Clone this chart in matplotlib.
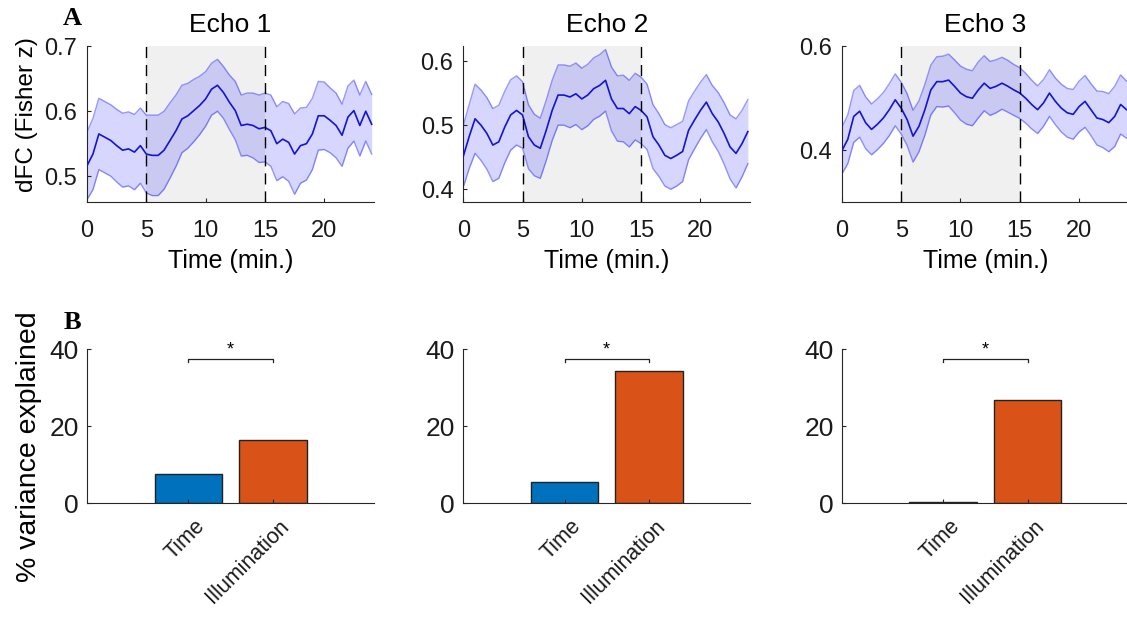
import matplotlib
matplotlib.use('Agg')
import matplotlib.pyplot as plt
import matplotlib.transforms as mtransforms
import numpy as np

plt.rcParams['font.family'] = ['Liberation Sans', 'DejaVu Sans']
plt.rcParams['font.size'] = 17

####################################################################################
# data
time_min = np.arange(0, 24.5, 0.5)
echo_titles = ['Echo 1', 'Echo 2', 'Echo 3']

dfc_echo1 = [0.516, 0.534, 0.565, 0.560, 0.555, 0.547, 0.540, 0.542, 0.537, 0.547,
             0.534, 0.532, 0.532, 0.540, 0.555, 0.570, 0.588, 0.593, 0.601, 0.609,
             0.619, 0.634, 0.640, 0.629, 0.614, 0.601, 0.578, 0.580, 0.578, 0.573,
             0.575, 0.570, 0.550, 0.557, 0.552, 0.534, 0.547, 0.550, 0.565, 0.593,
             0.593, 0.586, 0.578, 0.563, 0.591, 0.601, 0.578, 0.600, 0.580]
sem_echo1 = [0.052, 0.055, 0.055, 0.055, 0.055, 0.056, 0.057, 0.057, 0.058, 0.058,
             0.060, 0.062, 0.062, 0.060, 0.058, 0.055, 0.052, 0.050, 0.048, 0.045,
             0.042, 0.040, 0.040, 0.040, 0.042, 0.045, 0.047, 0.048, 0.050, 0.052,
             0.053, 0.055, 0.057, 0.058, 0.060, 0.062, 0.058, 0.056, 0.055, 0.053,
             0.052, 0.050, 0.050, 0.048, 0.048, 0.047, 0.047, 0.046, 0.046]

dfc_echo2 = [0.451, 0.482, 0.510, 0.500, 0.487, 0.469, 0.474, 0.497, 0.516, 0.523,
             0.516, 0.482, 0.469, 0.464, 0.492, 0.523, 0.547, 0.547, 0.544, 0.549,
             0.541, 0.547, 0.557, 0.562, 0.570, 0.541, 0.526, 0.526, 0.518, 0.529,
             0.523, 0.513, 0.482, 0.469, 0.453, 0.448, 0.453, 0.459, 0.492, 0.508,
             0.523, 0.536, 0.518, 0.505, 0.487, 0.466, 0.456, 0.471, 0.490]
sem_echo2 = [0.048, 0.050, 0.054, 0.055, 0.056, 0.057, 0.057, 0.056, 0.055, 0.054,
             0.052, 0.050, 0.048, 0.047, 0.047, 0.047, 0.047, 0.047, 0.048, 0.048,
             0.048, 0.048, 0.048, 0.048, 0.048, 0.050, 0.051, 0.052, 0.052, 0.052,
             0.052, 0.051, 0.050, 0.049, 0.048, 0.048, 0.048, 0.047, 0.046, 0.045,
             0.044, 0.043, 0.044, 0.046, 0.048, 0.050, 0.054, 0.052, 0.050]

dfc_echo3 = [0.399, 0.421, 0.465, 0.475, 0.453, 0.440, 0.450, 0.462, 0.478, 0.497,
             0.481, 0.459, 0.427, 0.446, 0.478, 0.516, 0.532, 0.532, 0.535, 0.523,
             0.510, 0.503, 0.500, 0.516, 0.529, 0.519, 0.523, 0.529, 0.523, 0.516,
             0.510, 0.500, 0.488, 0.478, 0.491, 0.510, 0.494, 0.481, 0.472, 0.469,
             0.484, 0.494, 0.478, 0.462, 0.459, 0.453, 0.465, 0.488, 0.478]
sem_echo3 = [0.045, 0.047, 0.050, 0.050, 0.050, 0.049, 0.049, 0.049, 0.050, 0.050,
             0.050, 0.050, 0.050, 0.049, 0.049, 0.048, 0.048, 0.049, 0.050, 0.051,
             0.052, 0.053, 0.053, 0.054, 0.053, 0.052, 0.051, 0.050, 0.050, 0.049,
             0.049, 0.048, 0.047, 0.046, 0.045, 0.045, 0.045, 0.046, 0.047, 0.048,
             0.049, 0.050, 0.050, 0.052, 0.054, 0.056, 0.058, 0.057, 0.055]

illum_on, illum_off = 5, 15
ylims = [(0.46, 0.70), (0.38, 0.623), (0.30, 0.60)]
yticks = [[0.5, 0.6, 0.7], [0.4, 0.5, 0.6], [0.4, 0.6]]

bar_labels = ['Time', 'Illumination']
var_time = [7.5, 5.5, 0.2]
var_illum = [16.5, 34.2, 26.8]

####################################################################################
# colours
linecolor = '#1414d2'
bandcolor = '#0000ff'
timecolor = '#0072BD'
illumcolor = '#D95319'
axcolor = '#262626'

fig = plt.figure(figsize=(11.27, 6.18), dpi=100)

lefts = [0.0772, 0.411, 0.747]
w = 0.2547

def style_axes(ax, xpad, ypad):
    for s in ['top', 'right']:
        ax.spines[s].set_visible(False)
    for s in ['left', 'bottom']:
        ax.spines[s].set_color(axcolor)
        ax.spines[s].set_linewidth(0.8)
    ax.tick_params(direction='in', length=3, colors=axcolor, labelcolor='#1a1a1a')
    ax.tick_params(axis='x', pad=xpad)
    ax.tick_params(axis='y', pad=ypad)

dfc_all = [dfc_echo1, dfc_echo2, dfc_echo3]
sem_all = [sem_echo1, sem_echo2, sem_echo3]

# (A) dFC time courses
for i in range(3):
    ax = fig.add_axes([lefts[i], 0.673, w, 0.252])
    m = np.array(dfc_all[i])
    s = np.array(sem_all[i])
    ax.axvspan(illum_on, illum_off, color='#f0f0f0', lw=0, zorder=0)
    ax.fill_between(time_min, m - s, m + s, color=bandcolor, alpha=0.16, lw=0, zorder=1)
    ax.plot(time_min, m + s, color=bandcolor, alpha=0.4, lw=1, zorder=2)
    ax.plot(time_min, m - s, color=bandcolor, alpha=0.4, lw=1, zorder=2)
    ax.plot(time_min, m, color=linecolor, lw=1.2, zorder=3)
    for xv in [illum_on, illum_off]:
        ax.axvline(xv, color='k', lw=1, ls=(0, (8, 5)), zorder=4)
    ax.set_xlim(0, 24.2)
    ax.set_ylim(*ylims[i])
    ax.set_xticks([0, 5, 10, 15, 20])
    ax.set_yticks(yticks[i])
    ax.set_yticklabels([('%.1f' % v) for v in yticks[i]])
    style_axes(ax, 13, 7)
    ax.set_xlabel('Time (min.)', fontsize=18, labelpad=5)
    ax.set_title(echo_titles[i], fontsize=19, pad=10)
    if i == 0:
        ax.set_ylabel('dFC (Fisher z)', fontsize=17.5)
        ax.yaxis.set_label_coords(-0.17, 0.56)

# (B) variance explained
shift = mtransforms.ScaledTranslation(6 / 100, 0, fig.dpi_scale_trans)
for i in range(3):
    ax = fig.add_axes([lefts[i], 0.186, w, 0.249])
    ax.bar([1], [var_time[i]], width=0.8, color=timecolor, edgecolor='#222222', lw=1)
    ax.bar([2], [var_illum[i]], width=0.8, color=illumcolor, edgecolor='#222222', lw=1)
    ax.set_xlim(-0.2, 3.2)
    ax.set_ylim(0, 40)
    ax.set_yticks([0, 20, 40])
    ax.set_xticks([1, 2])
    style_axes(ax, 9, 6)
    ax.tick_params(axis='y', labelsize=19)
    ax.set_xticklabels(bar_labels, rotation=45, ha='right', rotation_mode='anchor', fontsize=15.5)
    for lab in ax.get_xticklabels():
        lab.set_transform(lab.get_transform() + shift)
    # significance bracket
    ax.plot([1, 1, 2, 2], [36.6, 37.5, 37.5, 36.6], color='#222222', lw=0.9)
    ax.text(1.5, 37.6, '*', ha='center', va='bottom', fontsize=13)
    if i == 0:
        ax.set_ylabel('% variance explained', fontsize=20.5)
        ax.yaxis.set_label_coords(-0.157, 0.364)

fig.text(0.064, 0.97, 'A', family='Liberation Serif', fontweight='bold', fontsize=19, ha='center', va='center')
fig.text(0.064, 0.478, 'B', family='Liberation Serif', fontweight='bold', fontsize=19, ha='center', va='center')

fig.savefig('out.png', dpi=100)
